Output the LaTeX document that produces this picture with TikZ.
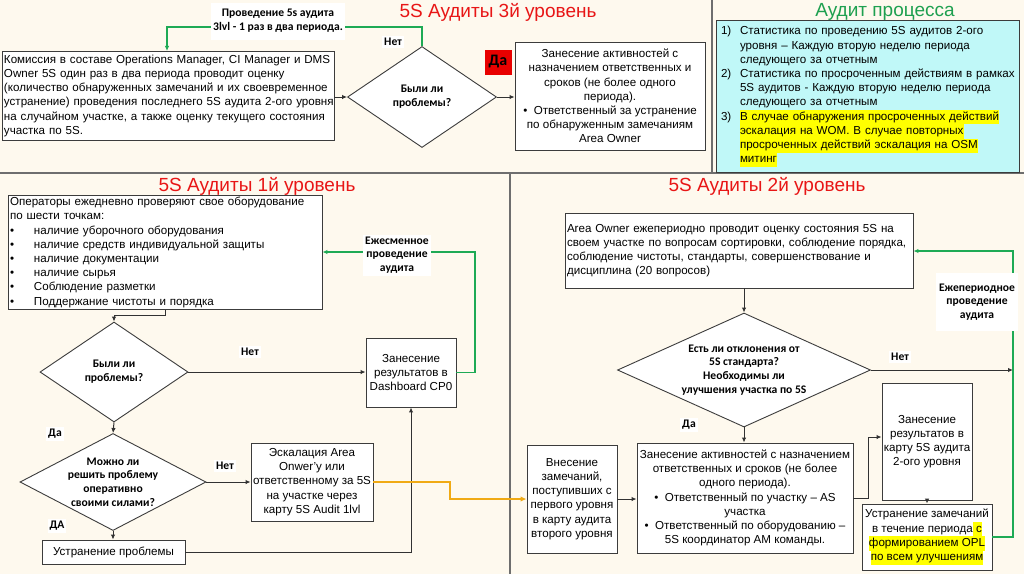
\documentclass[tikz,border=0pt]{standalone}
\usepackage{fontspec}
\setmainfont{Liberation Sans}
\newfontfamily\crl{Carlito}
\usetikzlibrary{shapes.geometric,arrows.meta,calc}
\definecolor{bg}{RGB}{254,249,238}
\definecolor{boxc}{RGB}{60,60,60}
\definecolor{linec}{RGB}{50,50,50}
\definecolor{sepc}{RGB}{110,110,110}
\definecolor{grn}{RGB}{30,170,85}
\definecolor{grntitle}{RGB}{30,160,80}
\definecolor{org}{RGB}{240,170,20}
\definecolor{ttlred}{RGB}{232,22,22}
\definecolor{redbox}{RGB}{232,0,0}
\definecolor{cyanbox}{RGB}{192,248,248}
\definecolor{hly}{RGB}{255,255,0}
\newcommand\bx{\fontsize{11.6}{14.2}\selectfont}
\newcommand\lb{\crl\bfseries\fontsize{11.6}{13.8}\selectfont}
\newcommand\hlt[1]{{\setlength{\fboxsep}{0pt}\colorbox{hly}{\strut #1}}}
\begin{document}
\begin{tikzpicture}[x=1pt,y=-1pt,
 box/.style={draw=boxc, fill=white, line width=0.9pt, inner sep=2pt, font=\bx, align=center},
 dia/.style={diamond, draw=boxc, fill=white, line width=0.9pt, inner sep=0pt},
 dtxt/.style={font=\lb, align=center, inner sep=0pt},
 lbl/.style={fill=white, font=\lb, align=center, inner sep=2pt},
 ttl/.style={font=\fontsize{19}{22}\selectfont, text=ttlred, inner sep=0pt},
 arr/.style={draw=linec, line width=1pt, -{Latex[length=5pt,width=4.5pt]}},
 garr/.style={draw=grn, line width=1.2pt, -{Latex[length=5pt,width=4.5pt]}},
 oarr/.style={draw=org, line width=2.2pt, -{Latex[length=6pt,width=5.5pt]}},
 sepline/.style={draw=sepc, line width=2.6pt}
]
\fill[bg] (0,0) rectangle (1024,574);
\useasboundingbox (0,0) rectangle (1024,574);

% separators
\draw[sepline] (0,173) -- (1024,173);
\draw[sepline] (712,0) -- (712,173);
\draw[sepline] (510,173) -- (510,574);

% titles
\node[ttl] (t3) at (498,12) {5S Аудиты 3й уровень};
\node[ttl, text=grntitle] (tp) at (885,12) {Аудит процесса};
\node[ttl] (t1) at (257,186) {5S Аудиты 1й уровень};
\node[ttl] (t2) at (767,186) {5S Аудиты 2й уровень};

% ---------- level 3 ----------
\node[box, minimum width=332pt, minimum height=88pt, text width=328pt, align=left] (comm) at (168,96)
 {\begin{tabular}{@{}l@{}}Комиссия в составе Operations Manager, CI Manager и DMS\\
 Owner 5S один раз в два периода проводит оценку\\
 (количество обнаруженных замечаний и их своевременное\\
 устранение) проведения последнего 5S аудита 2-ого уровня\\
 на случайном участке, а также оценку текущего состояния\\
 участка по 5S.\end{tabular}};
\node[dia, minimum width=149pt, minimum height=101pt] (d0) at (422,97) {};
\node[dtxt] (d0t) at (d0.center) {Были ли\\проблемы?};
\node[box, minimum width=190pt, minimum height=108pt] (act3) at (610,96)
 {Занесение активностей с\\назначением ответственных и\\сроков (не более одного\\периода).\\
 •\ \ Ответственный за устранение\\по обнаруженным замечаниям\\Area Owner};

\node[box, fill=cyanbox, minimum width=303pt, minimum height=142pt, text width=293pt, align=left, inner sep=5pt] (proc) at (867.5,96)
 {\begin{tabular}{@{}l@{}}\makebox[19pt][l]{1)}Статистика по проведению 5S аудитов 2-ого\\
 \hspace*{19pt}уровня – Каждую вторую неделю периода\\
 \hspace*{19pt}следующего за отчетным\\
 \makebox[19pt][l]{2)}Статистика по просроченным действиям в рамках\\
 \hspace*{19pt}5S аудитов - Каждую вторую неделю периода\\
 \hspace*{19pt}следующего за отчетным\\
 \makebox[19pt][l]{3)}\hlt{В случае обнаружения просроченных действий}\\
 \hspace*{19pt}\hlt{эскалация на WOM. В случае повторных}\\
 \hspace*{19pt}\hlt{просроченных действий эскалация на OSM}\\
 \hspace*{19pt}\hlt{митинг}\end{tabular}};

\coordinate (gt) at (167,27);
\draw[garr] (d0.north) |- (gt) -- (gt |- comm.north);
\draw[arr] (comm.east |- d0.west) -- (d0.west);
\draw[arr] (d0.east) -- (act3.west |- d0.east);

\node[lbl, minimum width=130pt, minimum height=37pt] (lt) at (278,21) {Проведение 5s аудита\\3lvl - 1 раз в два периода.};
\node[lbl] (n0) at (393,42) {Нет};
\node[fill=redbox, font=\crl\bfseries\fontsize{16}{18}\selectfont, minimum width=27pt, minimum height=25pt, inner sep=0pt] (y0) at (498,62) {Да};

% ---------- level 1 ----------
\node[box, minimum width=314pt, minimum height=109pt, text width=310pt, align=left, inner ysep=0pt] (ops) at (165,252.5)
 {\begin{tabular}{@{}l@{}}Операторы ежедневно проверяют свое оборудование\\
 по шести точкам:\\
 \makebox[24pt][l]{•}наличие уборочного оборудования\\
 \makebox[24pt][l]{•}наличие средств индивидуальной защиты\\
 \makebox[24pt][l]{•}наличие документации\\
 \makebox[24pt][l]{•}наличие сырья\\
 \makebox[24pt][l]{•}Соблюдение разметки\\
 \makebox[24pt][l]{•}Поддержание чистоты и порядка\end{tabular}};
\node[dia, minimum width=148pt, minimum height=100pt] (d1) at (114,372) {};
\node[dtxt] (d1t) at (d1.center) {Были ли\\проблемы?};
\node[box, minimum width=90pt, minimum height=69pt] (dash) at (411,372.5) {Занесение\\результатов в\\Dashboard CP0};
\node[dia, minimum width=186pt, minimum height=97pt] (d2) at (113,482) {};
\node[dtxt] (d2t) at (d2.center) {Можно ли\\решить проблему\\оперативно\\своими силами?};
\node[box, minimum width=122pt, minimum height=78pt, inner sep=1pt] (esc) at (312,482) {Эскалация Area\\Onwer’y или\\ответственному за 5S\\на участке через\\карту 5S Audit 1lvl};
\node[box, minimum width=143pt, minimum height=24pt] (fix) at (113.5,552) {Устранение проблемы};

\coordinate (b1) at (165,315);
\draw[arr] (b1 |- ops.south) -- (b1) -| (d1.north);
\draw[arr] (d1.east) -- (dash.west |- d1.east);
\draw[arr] (d1.south) -- (d2.north);
\draw[arr] (d2.east) -- (esc.west |- d2.east);
\draw[arr] (d2.south) -- (fix.north -| d2.south);
\draw[arr] (fix.east) -| (dash.south);
\coordinate (gm) at (475,252);
\draw[garr] (dash.east) -| (gm) -- (gm -| ops.east);

\node[lbl] (lm) at (397,255) {Ежесменное\\проведение\\аудита};
\node[lbl] (n1) at (250,352) {Нет};
\node[lbl] (y1) at (55,434) {Да};
\node[lbl] (n2) at (225,466) {Нет};
\node[lbl] (y2) at (57,526) {ДА};

% ---------- level 2 ----------
\node[box, minimum width=348pt, minimum height=75pt, text width=344pt, align=left] (area) at (739,250.5)
 {\begin{tabular}{@{}l@{}}Area Owner ежепериодно проводит оценку состояния 5S на\\
 своем участке по вопросам сортировки, соблюдение порядка,\\
 соблюдение чистоты, стандарты, совершенствование и\\
 дисциплина (20 вопросов)\end{tabular}};
\node[dia, minimum width=253pt, minimum height=114pt] (d3) at (744,370) {};
\node[dtxt] (d3t) at (d3.center) {Есть ли отклонения от\\5S стандарта?\\Необходимы ли\\улучшения участка по 5S};
\node[box, minimum width=90pt, minimum height=108pt] (vnes) at (572,499) {Внесение\\замечаний,\\поступивших с\\первого уровня\\в карту аудита\\второго уровня};
\node[box, minimum width=216pt, minimum height=110pt, inner sep=1pt] (zan2) at (745,498)
 {Занесение активностей с назначением\\ответственных и сроков (не более\\одного периода).\\
 •\ \ Ответственный по участку – AS\\участка\\•\ \ Ответственный по оборудованию –\\5S координатор AM команды.};
\node[box, minimum width=90pt, minimum height=117pt, inner sep=1pt] (res2) at (927,441.5) {Занесение\\результатов в\\карту 5S аудита\\2-ого уровня};
\node[box, minimum width=130pt, minimum height=66pt, inner sep=1pt] (ustr) at (927,537)
 {Устранение замечаний\\в течение периода\hlt{ с}\\\hlt{формированием OPL}\\\hlt{по всем улучшениям}};

\coordinate (gr) at (1013,251);
\draw[arr] (d3.north |- area.south) -- (d3.north);
\draw[arr] (d3.east) -- (d3.east -| gr);
\draw[arr] (d3.south) -- (zan2.north -| d3.south);
\draw[arr] (vnes.east) -- (zan2.west |- vnes.east);
\coordinate (b2) at (868,437);
\draw[arr] (zan2.east) -| (b2) -- (b2 -| res2.west);
\draw[arr] (res2.south) -- (ustr.north);
\draw[garr] (ustr.east) -| (gr) -- (gr -| area.east);
\coordinate (o1) at (450,482);
\draw[oarr] (esc.east) -- (o1) |- (vnes.west);

\node[lbl, minimum width=82pt, minimum height=58pt] (lr) at (977,302) {Ежепериодное\\проведение\\аудита};
\node[lbl] (n3) at (900,357) {Нет};
\node[lbl] (y3) at (689,425) {Да};
\end{tikzpicture}
\end{document}
